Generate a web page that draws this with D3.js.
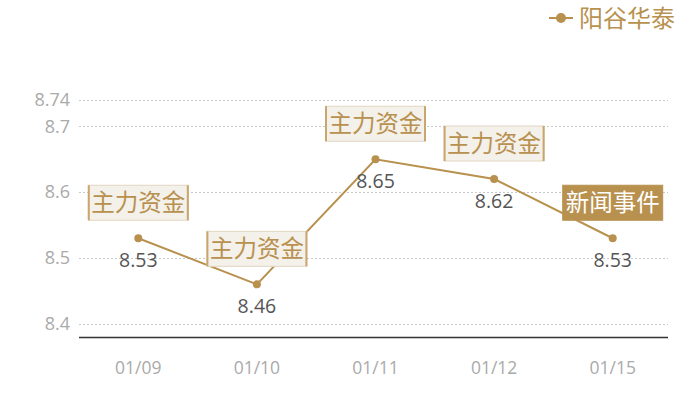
<!DOCTYPE html>
<html><head><meta charset="utf-8">
<script src="https://cdn.jsdelivr.net/npm/d3@7"></script>
<style>body{margin:0;background:#fff;}svg{display:block;font-family:"Noto Sans CJK SC","Noto Sans",sans-serif;}</style>
</head><body>
<svg id="c" width="700" height="400"></svg>
<script>
const categories = ["01/09","01/10","01/11","01/12","01/15"];
const values = [8.53, 8.46, 8.65, 8.62, 8.53];
const events = ["主力资金","主力资金","主力资金","主力资金","新闻事件"];
const eventTypes = ["fund","fund","fund","fund","news"];
const yTicks = [8.4, 8.5, 8.6, 8.7, 8.74];
const seriesName = "阳谷华泰";

(function () {
const svg = d3.select("#c");
const gold = "#b8914f";
const mLeft = 79, mRight = 672, mTop = 100, mBottom = 337;
const x = d3.scaleBand().domain(categories).range([mLeft, mRight]);
const y = d3.scaleLinear().domain([8.38, 8.74]).range([mBottom, mTop]);
const numFont = "'Open Sans','Noto Sans',sans-serif";

// grid
svg.append("g").selectAll("line").data(yTicks).join("line")
  .attr("x1", mLeft).attr("x2", 668)
  .attr("y1", d => Math.round(y(d)) + 0.5).attr("y2", d => Math.round(y(d)) + 0.5)
  .attr("stroke", "#c8c8c8").attr("stroke-dasharray", "2,2");

// y axis labels
const yAxis = d3.axisLeft(y).tickValues(yTicks).tickSize(0).tickPadding(9).tickFormat(d => String(d));
const gy = svg.append("g").attr("transform", `translate(${mLeft},0)`).call(yAxis);
gy.select(".domain").remove();
gy.selectAll("text").attr("fill", "#aaa").style("font-size", "18px").style("font-family", numFont);

// x axis
const xAxis = d3.axisBottom(x).tickSize(0).tickPadding(25);
const gx = svg.append("g").attr("transform", `translate(0,${mBottom})`).call(xAxis);
gx.select(".domain").remove();
gx.selectAll("text").attr("fill", "#aaa").style("font-size", "17.5px").style("font-family", numFont);
svg.append("line").attr("x1", mLeft).attr("x2", 668).attr("y1", mBottom + 0.5).attr("y2", mBottom + 0.5)
  .attr("stroke", "#333").attr("stroke-width", 1.3);

const cx = (d, i) => x(categories[i]) + x.bandwidth() / 2;

// line
const line = d3.line().x((d, i) => cx(d, i)).y(d => y(d));
svg.append("path").datum(values).attr("d", line).attr("fill", "none").attr("stroke", gold).attr("stroke-width", 2);
svg.append("g").selectAll("circle").data(values).join("circle")
  .attr("cx", cx).attr("cy", d => y(d)).attr("r", 4).attr("fill", gold);

// value labels
svg.append("g").selectAll("text").data(values).join("text")
  .attr("x", cx).attr("y", d => y(d) + 29).attr("text-anchor", "middle")
  .attr("fill", "#555").style("font-size", "19.5px").style("font-family", numFont)
  .text(d => d.toFixed(2));

// event boxes
const bw = 100, bh = 35;
const eg = svg.append("g").selectAll("g").data(values).join("g")
  .attr("transform", (d, i) => `translate(${cx(d, i) - bw / 2},${y(d) - 18 - bh})`);
eg.append("rect").attr("width", bw).attr("height", bh)
  .attr("fill", (d, i) => eventTypes[i] === "news" ? gold : "#f4f0ea")
  .attr("stroke", (d, i) => eventTypes[i] === "news" ? gold : "#e2d6c2").attr("stroke-width", 1);
eg.filter((d, i) => eventTypes[i] === "fund").each(function () {
  const g = d3.select(this);
  g.append("line").attr("x1", 0.5).attr("x2", 0.5).attr("y1", 0).attr("y2", bh).attr("stroke", "#c9a66e").attr("stroke-width", 2);
  g.append("line").attr("x1", bw - 0.5).attr("x2", bw - 0.5).attr("y1", 0).attr("y2", bh).attr("stroke", "#c9a66e").attr("stroke-width", 2);
});
eg.append("text").attr("x", bw / 2).attr("y", bh / 2 + 8.5).attr("text-anchor", "middle")
  .attr("fill", (d, i) => eventTypes[i] === "news" ? "#fff" : gold)
  .style("font-size", "23.5px").text((d, i) => events[i]);

// legend
const lg = svg.append("g");
lg.append("line").attr("x1", 549).attr("x2", 573).attr("y1", 18).attr("y2", 18).attr("stroke", gold).attr("stroke-width", 2);
lg.append("circle").attr("cx", 561).attr("cy", 18).attr("r", 5).attr("fill", gold);
lg.append("text").attr("x", 579).attr("y", 27).attr("fill", gold).style("font-size", "24px").text(seriesName);
})();
</script>
</body></html>
